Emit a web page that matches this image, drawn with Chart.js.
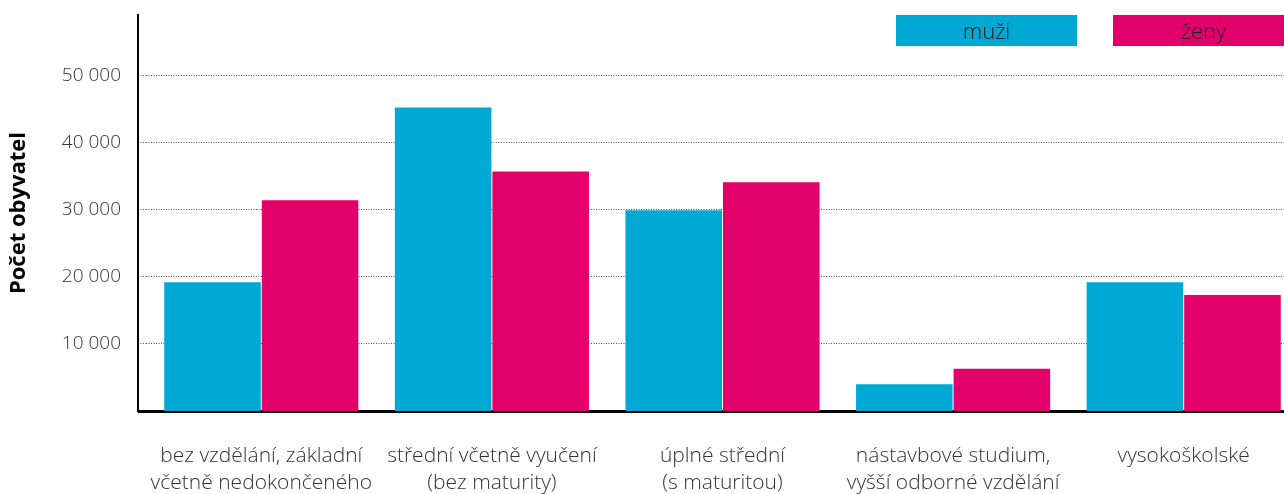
<!DOCTYPE html>
<html>
<head>
<meta charset="utf-8">
<script src="https://cdn.jsdelivr.net/npm/chart.js@4"></script>
<style>
  html, body { margin: 0; padding: 0; background: #fff; overflow: hidden; }
  #wrap { position: relative; width: 1284px; height: 494px; overflow: hidden; }
  #box { position: absolute; left: 0; top: 0; width: 1300px; height: 494px; }
  #legend { position: absolute; top: 15px; left: 896px; display: flex; gap: 36px; }
  #legend span { display: block; width: 181px; height: 31px; line-height: 31px; text-align: center;
    font-family: "Open Sans", sans-serif; font-weight: 300; font-size: 22px; color: #222; }
</style>
</head>
<body>
<div id="wrap">
  <div id="box"><canvas id="myChart1"></canvas></div>
  <div id="legend"></div>
</div>
<script>
const categories = [
  ['bez vzdělání, základní', 'včetně nedokončeného'],
  ['střední včetně vyučení', '(bez maturity)'],
  ['úplné střední', '(s maturitou)'],
  ['nástavbové studium,', 'vyšší odborné vzdělání'],
  ['vysokoškolské']
];
const muzi = [19200, 45200, 29900, 4000, 19200];
const zeny = [31400, 35700, 34100, 6300, 17300];
const yTicks = [10000, 20000, 30000, 40000, 50000];
const yMax = 59000;

const ctx = document.getElementById('myChart1');

Chart.defaults.font.family = '"Open Sans", sans-serif';
Chart.defaults.color = '#333';

function fmt(v){
  return String(v).replace(/\B(?=(\d{3})+(?!\d))/g, ' ');
}

// fixed tick list instead of stepSize (max is not a multiple of 10 000)
const noPad = s => { s.paddingTop = 0; s.paddingBottom = 0; };
const isZero = c => c.tick && c.tick.value === 0;

const myChart1 = new Chart(ctx, {
  type: 'bar',
  data: {
    labels: categories,
    datasets: [{
      label: 'muži',
      data: muzi,
      backgroundColor: '#00A8D4',
      barPercentage: 0.99,
      categoryPercentage: 0.846
    }, {
      label: 'ženy',
      data: zeny,
      backgroundColor: '#E2006B',
      barPercentage: 0.99,
      categoryPercentage: 0.846
    }]
  },
  options: {
    responsive: true,
    maintainAspectRatio: false,
    animation: false,
    layout: { padding: { top: 15, right: 1, left: 0, bottom: 0 } },
    plugins: {
      legend: { display: false },
      tooltip: { enabled: false }
    },
    scales: {
      x: {
        grid: { display: false },
        border: { display: true, color: '#000', width: 3 },
        ticks: {
          padding: 23,
          maxRotation: 0,
          autoSkip: false,
          font: { size: 21, weight: 300, lineHeight: 1.3 },
          color: '#333'
        },
        afterFit: s => { s.height = 83; }
      },
      y: {
        position: 'left',
        weight: 1,
        min: 0,
        max: yMax,
        grid: { display: false },
        border: { display: true, color: '#000', width: 2 },
        afterBuildTicks: s => { s.ticks = yTicks.map(v => ({ value: v })); },
        ticks: {
          padding: 9,
          font: { size: 19, weight: 300 },
          color: '#333',
          callback: v => fmt(v)
        },
        title: {
          display: true,
          text: 'Počet obyvatel',
          color: '#000',
          font: { size: 22, weight: 'bold' },
          padding: { top: 6, bottom: 0 }
        },
        afterFit: s => { s.width = 138; noPad(s); }
      },
      y2: {
        position: 'left',
        weight: 0,
        min: 0,
        max: yMax,
        border: {
          display: false,
          dash: c => isZero(c) ? [] : [1, 1.5]
        },
        afterBuildTicks: s => { s.ticks = [0].concat(yTicks).map(v => ({ value: v })); },
        grid: {
          color: c => isZero(c) ? '#000' : '#555',
          lineWidth: c => isZero(c) ? 3 : 1,
          tickLength: 8,
          tickColor: c => isZero(c) ? '#000' : '#555',
          tickWidth: c => isZero(c) ? 3 : 1,
          tickBorderDash: c => isZero(c) ? [] : [1, 1.5]
        },
        ticks: { display: false },
        afterFit: s => { s.width = 8; noPad(s); }
      }
    }
  }
});

// legend boxes with the label inside
const legend = document.getElementById('legend');
myChart1.data.datasets.forEach(ds => {
  const el = document.createElement('span');
  el.textContent = ds.label;
  el.style.background = ds.backgroundColor;
  legend.appendChild(el);
});
</script>
</body>
</html>
